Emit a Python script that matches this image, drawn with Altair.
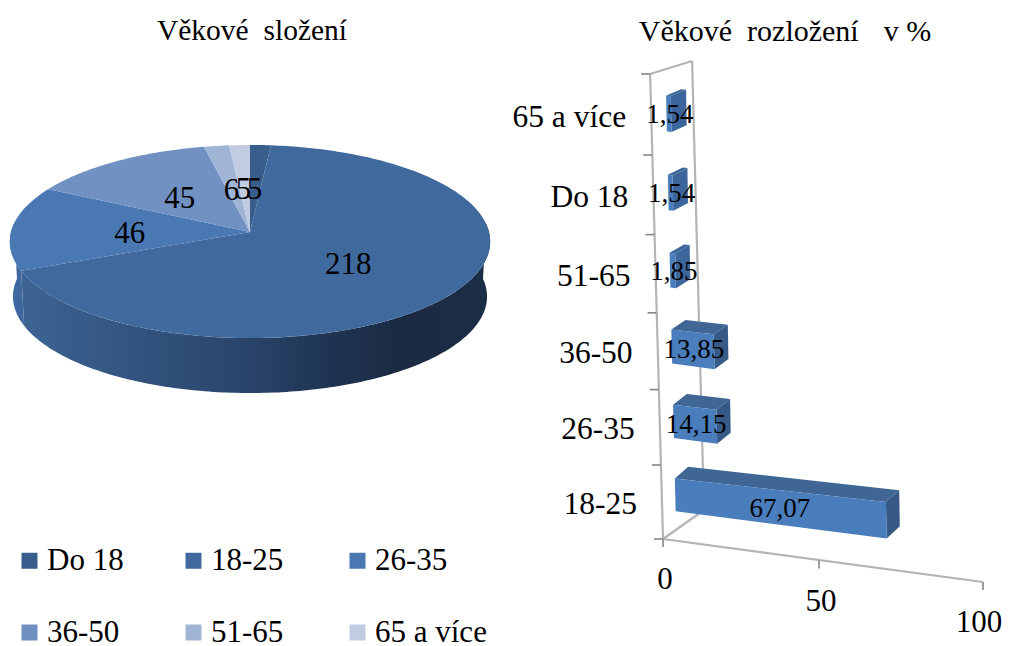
import math
import altair as alt

# ---- data ----
PIE_CATEGORIES = ["Do 18", "18-25", "26-35", "36-50", "51-65", "65 a více"]
PIE_VALUES = [5, 218, 46, 45, 6, 5]
PIE_COLORS = ["#385e8c", "#40699d", "#4a78b2", "#7291c3", "#a0b4d6", "#c1cce2"]

BAR_CATEGORIES = ["18-25", "26-35", "36-50", "51-65", "Do 18", "65 a více"]
BAR_VALUES = [67.07, 14.15, 13.85, 1.85, 1.54, 1.54]
X_TICKS = [0, 50, 100]

FONT = "Liberation Serif"
TITLE_LEFT = "Věkové\u00a0\u00a0složení"
TITLE_RIGHT = "Věkové\u00a0\u00a0rozložení\u00a0\u00a0\u00a0\u200av\u00a0%"


# ---- pie projection: unit disc -> tilted ellipse with mild perspective ----
def rim(theta_deg, r=1.0, drop=0.0, shrink=1.0):
    t = math.radians(theta_deg)
    sx, sy = r * math.sin(t), -r * math.cos(t)
    f = 1 / (1 - 0.0984 * sy)
    return [250 + 239 * shrink * sx * f, 232 + 95.6 * sy * f + drop]


def feature(coords, kind="Polygon", **props):
    if kind == "Polygon":
        geometry = {"type": "Polygon", "coordinates": [coords + [coords[0]]]}
    else:
        geometry = {"type": "LineString", "coordinates": coords}
    return {"type": "Feature", "geometry": geometry, "properties": props}


def arc_angles(a, b, step=1.0):
    n = max(2, int(abs(b - a) / step) + 1)
    return [a + (b - a) * i / (n - 1) for i in range(n)]


total = sum(PIE_VALUES)
edges = [0.0]
for value in PIE_VALUES:
    edges.append(edges[-1] + value / total * 360)

wedges, pie_labels = [], []
for i, cat in enumerate(PIE_CATEGORIES):
    ring = [rim(a) for a in arc_angles(edges[i], edges[i + 1])]
    wedges.append(feature([rim(0, 0)] + ring, name=cat))
    lon, lat = rim((edges[i] + edges[i + 1]) / 2, 0.5)
    pie_labels.append({"lon": lon - 1, "lat": lat + 4, "label": str(PIE_VALUES[i])})


def wall(a, b):
    angles = arc_angles(a, b)
    return [rim(t) for t in angles] + [rim(t, 1, 55, 0.987) for t in reversed(angles)]


wall_main = feature(wall(85, edges[2]))
wall_left = feature(wall(edges[2], 275))


# ---- bar projection: value, band height, depth -> oblique picture ----
def P(v, h, d=0.0):
    lift = h - math.floor(h)
    x = 663 + 3.04 * v + 0.0016 * v * v - 2.15 * h + d * (13 + 0.4 * h)
    y = 539 - (73.3 * h + 0.7 * h * h) + v * (0.43 - 0.12 * lift) + d * (-12.5 + 1.1 * h)
    return [x, y]


faces, bar_labels, cat_labels = [], [], []
for i, (cat, v) in enumerate(zip(BAR_CATEGORIES, BAR_VALUES)):
    h0, h1 = i + 0.21, i + 0.66
    small = v < 5
    faces.append(feature([P(0, h1, 1), P(v, h1, 1), P(v, h1, 2), P(0, h1, 2)],
                         col="#3c659b" if small else "#3f6694"))
    faces.append(feature([P(v, h0, 1), P(v, h0, 2), P(v, h1, 2), P(v, h1, 1)],
                         col="#3c659b" if small else "#365a85"))
    faces.append(feature([P(0, h0, 1), P(v, h0, 1), P(v, h1, 1), P(0, h1, 1)], col="#4a7dbb"))
    lon, lat = P(v / 2, (h0 + h1) / 2, 1)
    bar_labels.append({"lon": lon + 1, "lat": lat + 1, "label": f"{v:.2f}".replace(".", ",")})
    lon, lat = P(0, i + 0.5)
    cat_labels.append({"lon": lon - 25, "lat": lat + 3, "label": cat})

n_bands = len(BAR_CATEGORIES)
back_floor = [P(0, 0)[0] + 41, P(0, 0)[1] - 29]
back_top = [P(0, n_bands)[0] + 42, P(0, n_bands)[1] - 13]
wall_lines = [
    feature([P(0, n_bands), P(0, 0)], "LineString"),
    feature([P(0, n_bands), back_top], "LineString"),
    feature([back_top, back_floor], "LineString"),
    feature([P(0, 0), back_floor], "LineString"),
    feature([P(0, 0), P(X_TICKS[-1], 0)], "LineString"),
]
tick_lines = []
for h in range(n_bands + 1):
    x, y = P(0, h)
    tick_lines.append(feature([[x - 9, y], [x, y]], "LineString"))
x_labels = []
for t in X_TICKS:
    x, y = P(t, 0)
    tick_lines.append(feature([[x, y], [x, y + 8]], "LineString"))
    # the page stops at x = 1003, so the last label is kept inside it
    x_labels.append({"lon": min(x + 2, 979), "lat": y + 41, "label": str(t)})

PROJ = dict(type="identity", scale=1, translate=[-8, -8])


def shapes(features):
    return alt.Chart(alt.Data(values=features))


def text_layer(rows, size, align="center"):
    return (
        alt.Chart(alt.Data(values=rows))
        .mark_text(font=FONT, fontSize=size, align=align, baseline="middle", color="#000000")
        .encode(longitude="lon:Q", latitude="lat:Q", text="label:N")
        .project(**PROJ)
    )


gradient = alt.LinearGradient(
    gradient="linear", x1=0, x2=1, y1=0, y2=0,
    stops=[
        alt.GradientStop(color="#3d6493", offset=0),
        alt.GradientStop(color="#2a466e", offset=0.45),
        alt.GradientStop(color="#1f3351", offset=0.67),
        alt.GradientStop(color="#1a2a42", offset=0.81),
        alt.GradientStop(color="#1c2d47", offset=1),
    ],
)

layers = [
    shapes([wall_main]).mark_geoshape(fill=gradient, strokeWidth=0).project(**PROJ),
    shapes([wall_left]).mark_geoshape(fill="#4068a0", strokeWidth=0).project(**PROJ),
    shapes(wedges).mark_geoshape(strokeWidth=0).encode(
        color=alt.Color(
            "properties.name:N",
            scale=alt.Scale(domain=PIE_CATEGORIES, range=PIE_COLORS),
            legend=alt.Legend(
                title=None, orient="none", legendX=6, legendY=537, columns=3,
                direction="horizontal",
                gridAlign="all", symbolType="square", symbolSize=256, symbolStrokeWidth=0,
                labelFont=FONT, labelFontSize=31, labelColor="#000000", labelLimit=200,
                labelOffset=2, columnPadding=19, rowPadding=40,
            ),
        )
    ).project(**PROJ),
    shapes(wall_lines).mark_geoshape(filled=False, stroke="#b4b4b4", strokeWidth=2.2).project(**PROJ),
    shapes(tick_lines).mark_geoshape(filled=False, stroke="#868686", strokeWidth=1.6).project(**PROJ),
    shapes(faces).mark_geoshape(strokeWidth=0).encode(
        fill=alt.Fill("properties.col:N", scale=None, legend=None)
    ).project(**PROJ),
    text_layer(pie_labels, 31),
    text_layer(bar_labels, 27),
    text_layer(cat_labels, 31.5, "right"),
    text_layer(x_labels, 31),
    text_layer([{"lon": 252, "lat": 31, "label": TITLE_LEFT}], 29.5),
    text_layer([{"lon": 785, "lat": 32, "label": TITLE_RIGHT}], 30),
]

chart = (
    alt.layer(*layers)
    .properties(width=995, height=638, padding=0, autosize=alt.AutoSizeParams(type="none"))
    .resolve_scale(color="independent")
    .configure_view(stroke=None)
    .configure(background="#ffffff")
)

chart.save("out.html", embed_options={"renderer": "svg", "actions": False})
